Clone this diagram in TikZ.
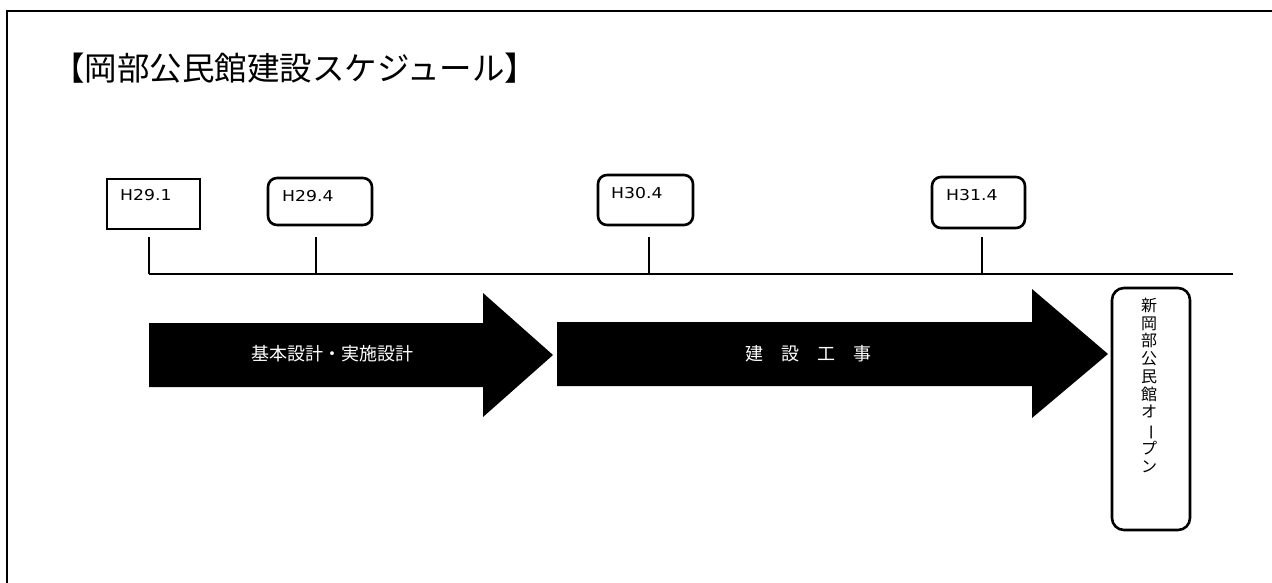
\documentclass[tikz,border=0pt]{standalone}
\usepackage{fontspec}
\usepackage{graphicx}
\newfontfamily\jp{Noto Sans CJK JP}
\newfontfamily\lat{DejaVu Sans}
\usetikzlibrary{calc}
\tikzset{
  datebox/.style={draw=black, line width=2.6pt, inner sep=0pt},
  datetext/.style={anchor=west, inner sep=0pt, font=\lat\fontsize{15}{17}\selectfont},
  tickline/.style={line width=1.7pt},
  bigarrow/.style={fill=black},
  arrowtext/.style={text=white, inner sep=0pt, font=\jp\fontsize{18}{20}\selectfont},
  openbox/.style={draw=black, line width=2.6pt, rounded corners=12pt, inner sep=0pt}
}
\newcommand{\wide}[1]{\scalebox{1.15}[1]{#1}}
\begin{document}
\begin{tikzpicture}[x=1pt,y=-1pt]
\useasboundingbox (0,0) rectangle (1272,583);
\fill[white] (0,0) rectangle (1272,583);
% frame (top and left)
\draw[line width=2pt] (1272,11) -- (7,11) -- (7,583);
% title
\node[anchor=west, inner sep=0pt, font=\jp\fontsize{32.5}{36}\selectfont] (title) at (52,68) {【岡部公民館建設スケジュール】};
% date boxes
\node[datebox, minimum width=93pt, minimum height=50pt] (d1) at (153.5,204) {};
\node[datebox, rounded corners=9pt, minimum width=104pt, minimum height=47pt] (d2) at (320,201.5) {};
\node[datebox, rounded corners=9pt, minimum width=95pt, minimum height=50pt] (d3) at (645.5,200) {};
\node[datebox, rounded corners=9pt, minimum width=93pt, minimum height=51pt] (d4) at (978.5,202.5) {};
\node[datetext] (l1) at (120,195) {\wide{H29.1}};
\node[datetext] (l2) at (282,196) {\wide{H29.4}};
\node[datetext] (l3) at (611,193) {\wide{H30.4}};
\node[datetext] (l4) at (946,195) {\wide{H31.4}};
% timeline
\coordinate (a1) at (149,237); \coordinate (b1) at (149,274);
\coordinate (a2) at (316,237); \coordinate (b2) at (316,274);
\coordinate (a3) at (649,237); \coordinate (b3) at (649,274);
\coordinate (a4) at (982,237); \coordinate (b4) at (982,274);
\coordinate (tend) at (1233,274);
\draw[tickline] (b1) -- (tend);
\draw[tickline] (a1) -- (b1);
\draw[tickline] (a2) -- (b2);
\draw[tickline] (a3) -- (b3);
\draw[tickline] (a4) -- (b4);
% arrows
\fill[bigarrow] (149,323) -- (483,323) -- (483,293) -- (553,355) -- (483,417) -- (483,387) -- (149,387) -- cycle;
\node[arrowtext] (p1) at (332,354) {基本設計・実施設計};
\fill[bigarrow] (557,322) -- (1032,322) -- (1032,289) -- (1108,354) -- (1032,418) -- (1032,386) -- (557,386) -- cycle;
\node[arrowtext] (p2) at (808,354) {建　設　工　事};
% opening box
\node[openbox, minimum width=78pt, minimum height=242pt] (open) at (1151,409) {};
\node[anchor=north, inner sep=0pt, align=center, font=\jp\fontsize{16}{17.7}\selectfont] (opentext) at (1149,298)
  {新\\岡\\部\\公\\民\\館\\オ\\\rotatebox[origin=c]{-90}{ー}\\プ\\ン};
\end{tikzpicture}
\end{document}
